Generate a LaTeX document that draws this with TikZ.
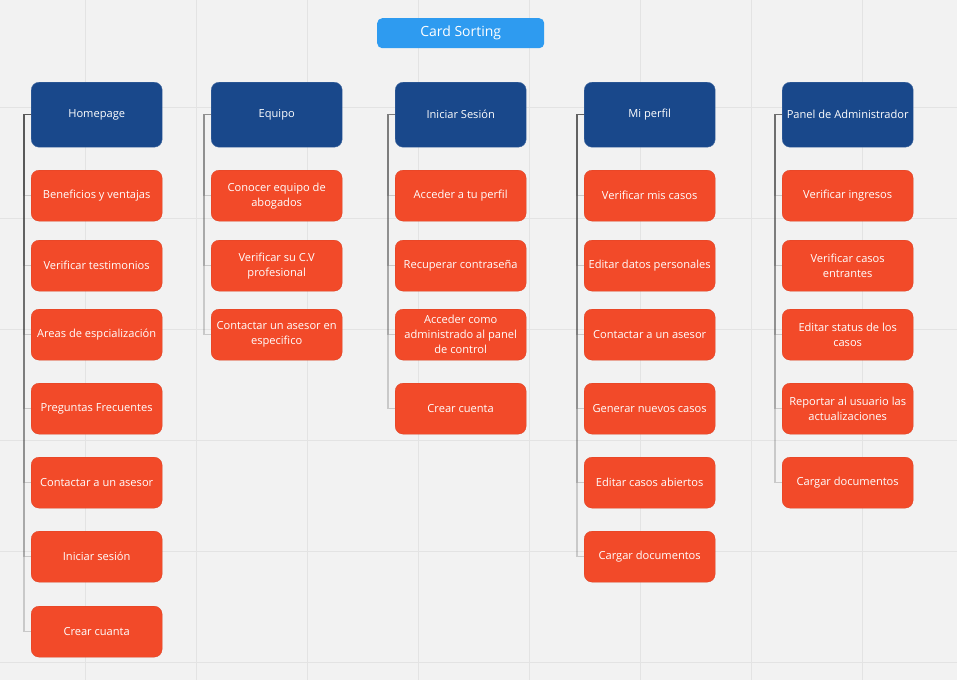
\documentclass[tikz,border=0pt]{standalone}
\usepackage{fontspec}
\setmainfont{Open Sans}
\begin{document}
\begin{tikzpicture}[x=1pt,y=-1pt,
  card/.style={rounded corners=8pt, minimum width=131pt, minimum height=51pt, inner sep=0pt, align=center, text=white, font=\fontsize{11.1}{15}\selectfont, anchor=north west},
  head/.style={card, fill=navy, minimum height=65pt, draw=navy!80!white, line width=0.4pt},
  item/.style={card, fill=orangered, draw=orangered!90!black, line width=0.3pt},
  conn/.style={draw=linegray, draw opacity=0.22, line width=1.1pt},
  gridline/.style={draw=gridgray, line width=0.8pt}
]
\definecolor{bg}{HTML}{F2F2F2}
\definecolor{gridgray}{HTML}{E3E3E3}
\definecolor{navy}{HTML}{19488B}
\definecolor{orangered}{HTML}{F24A29}
\definecolor{titleblue}{HTML}{2E9BF0}
\definecolor{linegray}{HTML}{3A3A3A}
\useasboundingbox (0,0) rectangle (957,680);
\fill[bg] (0,0) rectangle (957,680);
\foreach \gx in {85.5,196.5,307.5,418.5,529.5,640.5,751.5,862.5} \draw[gridline] (\gx,0) -- (\gx,680);
\foreach \gy in {107,218,329,440,551,662} \draw[gridline] (0,\gy) -- (957,\gy);

\node[card, fill=titleblue, minimum width=167pt, minimum height=30pt, rounded corners=5pt, font=\fontsize{14}{16}\selectfont] (title) at (377,18) {Card Sorting};

% Column 1
\node[head] (h1) at (31,82) {Homepage};
\node[item] (a1) at (31,170) {Beneficios y ventajas};
\node[item] (a2) at (31,240) {Verificar testimonios};
\node[item] (a3) at (31,309) {Areas de espcialización};
\node[item] (a4) at (31,383) {Preguntas Frecuentes};
\node[item] (a5) at (31,457) {Contactar a un asesor};
\node[item] (a6) at (31,531) {Iniciar sesión};
\node[item] (a7) at (31,606) {Crear cuanta};

% Column 2
\node[head] (h2) at (211,82) {Equipo};
\node[item] (b1) at (211,170) {Conocer equipo de\\abogados};
\node[item] (b2) at (211,240) {Verificar su C.V\\profesional};
\node[item] (b3) at (211,309) {Contactar un asesor en\\especifico};

% Column 3
\node[head] (h3) at (395,82) {Iniciar Sesión};
\node[item] (c1) at (395,170) {Acceder a tu perfil};
\node[item] (c2) at (395,240) {Recuperar contraseña};
\node[item] (c3) at (395,309) {Acceder como\\administrado al panel\\de control};
\node[item] (c4) at (395,383) {Crear cuenta};

% Column 4
\node[head] (h4) at (584,82) {Mi perfil};
\node[item] (d1) at (584,170) {Verificar mis casos};
\node[item] (d2) at (584,240) {Editar datos personales};
\node[item] (d3) at (584,309) {Contactar a un asesor};
\node[item] (d4) at (584,383) {Generar nuevos casos};
\node[item] (d5) at (584,457) {Editar casos abiertos};
\node[item] (d6) at (584,531) {Cargar documentos};

% Column 5
\node[head] (h5) at (782,82) {Panel de Administrador};
\node[item] (e1) at (782,170) {Verificar ingresos};
\node[item] (e2) at (782,240) {Verificar casos\\entrantes};
\node[item] (e3) at (782,309) {Editar status de los\\casos};
\node[item] (e4) at (782,383) {Reportar al usuario las\\actualizaciones};
\node[item] (e5) at (782,457) {Cargar documentos};

\foreach \c in {a1,a2,a3,a4,a5,a6,a7} \draw[conn] (h1.west) -- ++(-7,0) |- (\c.west);
\foreach \c in {b1,b2,b3} \draw[conn] (h2.west) -- ++(-7,0) |- (\c.west);
\foreach \c in {c1,c2,c3,c4} \draw[conn] (h3.west) -- ++(-7,0) |- (\c.west);
\foreach \c in {d1,d2,d3,d4,d5,d6} \draw[conn] (h4.west) -- ++(-7,0) |- (\c.west);
\foreach \c in {e1,e2,e3,e4,e5} \draw[conn] (h5.west) -- ++(-7,0) |- (\c.west);
\end{tikzpicture}
\end{document}
